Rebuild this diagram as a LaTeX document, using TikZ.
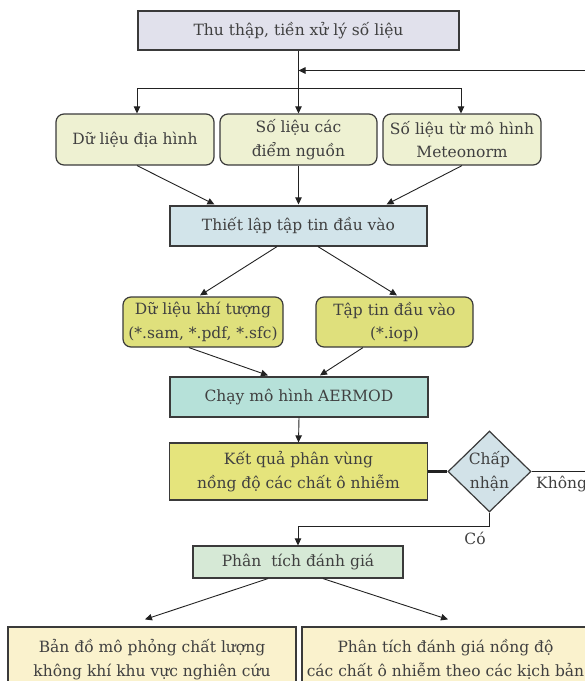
\documentclass[tikz,border=0pt]{standalone}
\usepackage{fontspec}
\setmainfont{DejaVu Serif}
\usetikzlibrary{arrows.meta,shapes.geometric}
\definecolor{bordc}{HTML}{3A3A3A}
\definecolor{linec}{HTML}{222222}
\definecolor{cA}{HTML}{E1E1EC}
\definecolor{cB}{HTML}{EEF1D2}
\definecolor{cC}{HTML}{D2E4EA}
\definecolor{cD}{HTML}{DFE07C}
\definecolor{cE}{HTML}{B6E1D9}
\definecolor{cF}{HTML}{E5E47C}
\definecolor{cG}{HTML}{D2E2E8}
\definecolor{cH}{HTML}{D6E9D6}
\definecolor{cI}{HTML}{FAF2CD}
\tikzset{
  bx/.style={draw=bordc, line width=1.2pt, rectangle, align=center, inner sep=0pt,
    font=\fontsize{15.5}{23.5}\selectfont, text=black!75},
  rbx/.style={bx, rounded corners=8pt},
  arr/.style={-{Triangle[length=7pt,width=6.5pt]}, line width=0.9pt, draw=linec},
  lbl/.style={font=\fontsize{15.5}{23.5}\selectfont, text=black!75, inner sep=0pt},
}
\begin{document}
\begin{tikzpicture}[x=1pt,y=-1pt]
\useasboundingbox (0,0) rectangle (585,681);
\clip (0,0) rectangle (585,681);
\node[bx, fill=cA, minimum width=321pt, minimum height=39pt] (n1) at (298.5,30.5) {Thu thập, tiền xử lý số liệu};
\node[rbx, fill=cB, minimum width=158pt, minimum height=51pt] (n2a) at (135,139.5) {Dữ liệu địa hình};
\node[rbx, fill=cB, minimum width=157pt, minimum height=51pt] (n2b) at (298.5,139.5) {Số liệu các\\điểm nguồn};
\node[rbx, fill=cB, minimum width=158pt, minimum height=51pt] (n2c) at (462,139.5) {Số liệu từ mô hình\\Meteonorm};
\node[bx, fill=cC, minimum width=257pt, minimum height=40pt] (n3) at (298.5,226) {Thiết lập tập tin đầu vào};
\node[rbx, fill=cD, minimum width=160pt, minimum height=50pt] (n4a) at (203,322) {Dữ liệu khí tượng\\(*.sam, *.pdf, *.sfc)};
\node[rbx, fill=cD, minimum width=157pt, minimum height=50pt] (n4b) at (394.5,322) {Tập tin đầu vào\\(*.iop)};
\node[bx, fill=cE, minimum width=258pt, minimum height=40pt] (n5) at (299,397) {Chạy mô hình AERMOD};
\node[bx, fill=cF, minimum width=258pt, minimum height=57pt] (n6) at (298.5,471.5) {Kết quả phân vùng\\nồng độ các chất ô nhiễm};
\node[bx, diamond, fill=cG, minimum width=83pt, minimum height=79pt] (dia) at (489.5,471.5) {Chấp\\nhận};
\node[bx, fill=cH, minimum width=210pt, minimum height=32pt] (n7) at (298,562) {Phân\ \ tích đánh giá};
\node[bx, fill=cI, minimum width=288pt, minimum height=65pt] (n8a) at (152,659.5) {Bản đồ mô phỏng chất lượng\\không khí khu vực nghiên cứu};
\node[bx, fill=cI, minimum width=287pt, minimum height=65pt] (n8b) at (445.5,659.5) {Phân tích đánh giá nồng độ\\các chất ô nhiễm theo các kịch bản};
\node[lbl, anchor=west] (kh) at (536,484) {Không};
\node[lbl] (co) at (475,538) {Có};
% connectors
\coordinate (br) at (298.5,88);
\coordinate (fbc) at (600,70.5);
\draw[arr] (n1.south) -- (n2b.north);
\draw[arr] (br) -| ([xshift=2pt]n2a.north);
\draw[arr] (br) -| ([xshift=-1pt]n2c.north);
\draw[arr] ([xshift=2pt]n2a.south) -- ([xshift=45pt,yshift=1pt]n3.north west);
\draw[arr] (n2b.south) -- ([yshift=1pt]n3.north);
\draw[arr] (n2c.south) -- ([xshift=-41pt,yshift=1pt]n3.north east);
\draw[arr] ([xshift=-21.5pt]n3.south) -- ([xshift=-3pt,yshift=1pt]n4a.north);
\draw[arr] ([xshift=19.5pt]n3.south) -- ([xshift=2.5pt,yshift=1pt]n4b.north);
\draw[arr] ([xshift=-14pt]n4a.south) -- ([xshift=-31pt,yshift=1pt]n5.north);
\draw[arr] ([xshift=-31.5pt]n4b.south) -- ([xshift=21pt,yshift=1pt]n5.north);
\draw[arr] (n5.south) -- (n6.north);
\draw[line width=2.6pt, draw=linec] (n6.east) -- (dia.west);
\draw[arr] (dia.east) -| (fbc) -- (n1.south |- fbc);
\draw[arr] (dia.south) -- ++(0,14) -| (n7.north);
\draw[arr] ([xshift=-30pt]n7.south) -- ([xshift=-7pt,yshift=7pt]n8a.north);
\draw[arr] ([xshift=25pt]n7.south) -- ([xshift=2.5pt,yshift=7pt]n8b.north);
\end{tikzpicture}
\end{document}
